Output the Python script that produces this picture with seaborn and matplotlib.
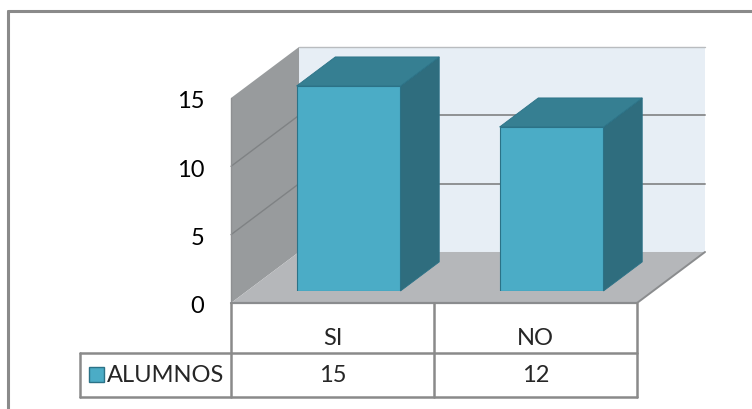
import matplotlib
matplotlib.use("Agg")
import matplotlib.pyplot as plt
import seaborn as sns
import pandas as pd
from matplotlib.patches import Polygon, Rectangle
from matplotlib.lines import Line2D
from matplotlib.transforms import IdentityTransform

# ---- data ----
categories = ["SI", "NO"]
values = [15, 12]
series_name = "ALUMNOS"
yticks = [0, 5, 10, 15]
ymax = 15

sns.set_theme(style="white")
plt.rcParams['font.family'] = ['Lato', 'DejaVu Sans']

W, H = 752, 410
fig = plt.figure(figsize=(W / 100, H / 100), dpi=100)
fig.patch.set_facecolor("white")
ax = fig.add_axes([247 / W, (H - 292) / H, 406 / W, 205 / H])

FRONT = "#4bacc6"
SIDE = "#2f6d7e"
TOP = "#367f92"
EDGE = "#2b7287"

df = pd.DataFrame({"cat": categories, "val": values})
sns.barplot(data=df, x="cat", y="val", color=FRONT, saturation=1, width=0.512,
            edgecolor=EDGE, linewidth=0.8, ax=ax, zorder=5)
ax.set_xlim(-0.5, 1.5)
ax.set_ylim(0, ymax)
ax.axis("off")
bars = [p for p in ax.patches if isinstance(p, Rectangle)]

IDT = IdentityTransform()
DX, DY = 68, 51          # full depth vector (pixels)
D0 = 0.235               # depth of bar front face
DB = D0 + 0.57           # depth of bar back face


def P(x, y, d):
    px, py = ax.transData.transform((x, y))
    return (px + (d - D0) * DX, py + (d - D0) * DY)


def poly(pts, fc, ec="none", lw=0, z=1):
    ax.add_patch(Polygon(pts, closed=True, facecolor=fc, edgecolor=ec, linewidth=lw,
                         transform=IDT, clip_on=False, zorder=z))


def line(p1, p2, color, lw, z=2):
    ax.add_line(Line2D([p1[0], p2[0]], [p1[1], p2[1]], color=color, linewidth=lw,
                       transform=IDT, clip_on=False, zorder=z))


x0, x1 = -0.5, 1.5
# back wall
poly([P(x0, 0, 1), P(x1, 0, 1), P(x1, ymax, 1), P(x0, ymax, 1)], "#e7eef5", z=0.5)
line(P(x0, ymax, 1), P(x1, ymax, 1), "#b9bcbf", 1.0, z=0.55)
# left wall
poly([P(x0, 0, 0), P(x0, 0, 1), P(x0, ymax, 1), P(x0, ymax, 0)], "#989b9d", z=0.6)
# floor
poly([P(x0, 0, 0), P(x1, 0, 0), P(x1, 0, 1), P(x0, 0, 1)], "#b5b7ba", z=0.7)
line(P(x0, 0, 0), P(x1, 0, 0), "#8a8c8e", 1.6, z=0.8)
line(P(x1, 0, 0), P(x1, 0, 1), "#8a8c8e", 1.4, z=0.8)
line(P(x0, 0, 0), P(x0, ymax, 0), "#8e9092", 1.0, z=0.8)

# gridlines
for yv in yticks[1:-1]:
    line(P(x0, yv, 1), P(x1, yv, 1), "#8f9193", 1.4, z=0.55)
    line(P(x0, yv, 0), P(x0, yv, 1), "#7f8284", 1.0, z=0.65)

# 3D faces of bars
for patch in bars:
    if patch.get_height() <= 0:
        continue
    bx = patch.get_x()
    bw = patch.get_width()
    bh = patch.get_height()
    poly([P(bx + bw, 0, D0), P(bx + bw, 0, DB), P(bx + bw, bh, DB), P(bx + bw, bh, D0)],
         SIDE, EDGE, 0.6, z=4)
    poly([P(bx, bh, D0), P(bx + bw, bh, D0), P(bx + bw, bh, DB), P(bx, bh, DB)],
         TOP, EDGE, 0.6, z=4)

FS = 17
# y tick labels (front plane)
for yv in yticks:
    px, py = P(x0, yv, 0)
    fig.text((px - 27) / W, (py - 3) / H, str(yv), ha="right", va="center",
             fontsize=FS, color="black")

# ---- data table ----
TC = "#8a8a8a"
cols = [P(x, 0, 0)[0] for x in (-0.5, 0.5, 1.5)]
ytop = P(x0, 0, 0)[1]
ymid = H - 354
ybot = H - 398
xleft = 80


def fline(xa, ya, xb, yb, lw=1.8):
    fig.add_artist(Line2D([xa / W, xb / W], [ya / H, yb / H], color=TC, linewidth=lw,
                          transform=fig.transFigure))


for cx in cols:
    fline(cx, ytop, cx, ybot)
fline(xleft, ymid, cols[-1], ymid)
fline(xleft, ybot, cols[-1], ybot)
fline(xleft, ymid, xleft, ybot)

for i, (cat, val) in enumerate(zip(categories, values)):
    cxm = (cols[i] + cols[i + 1]) / 2
    fig.text(cxm / W, (H - 339) / H, cat, ha="center", va="center", fontsize=FS)
    fig.text(cxm / W, (H - 376) / H, str(val), ha="center", va="center", fontsize=FS)

fig.add_artist(Rectangle((89 / W, (H - 383) / H), 15 / W, 15 / H, facecolor=FRONT,
                         edgecolor=EDGE, linewidth=1.0, transform=fig.transFigure))
fig.text(107 / W, (H - 376) / H, series_name, ha="left", va="center", fontsize=FS)

# outer chart frame
fline(7.5, H - 12, W + 5, H - 12, lw=2.2)
fline(7.5, H - 12, 7.5, -5, lw=2.2)

fig.savefig("out.png", dpi=100)
